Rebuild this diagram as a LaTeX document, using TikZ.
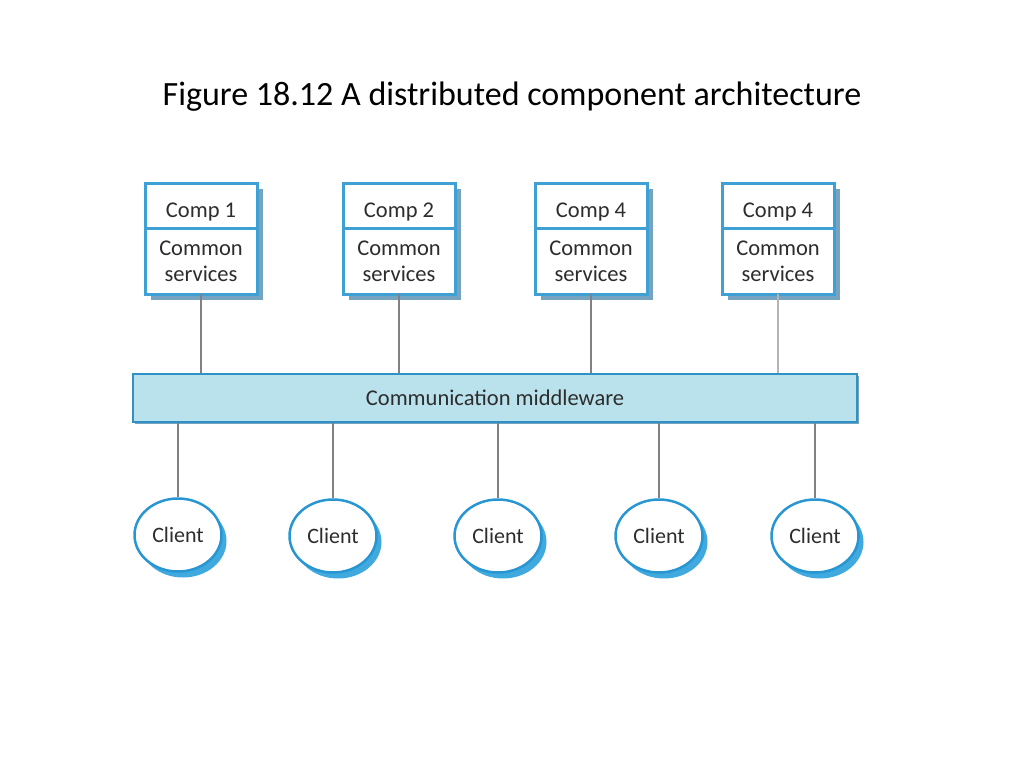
\documentclass[tikz,border=0pt]{standalone}
\usepackage{fontspec}
\setmainfont{Carlito}
\usetikzlibrary{positioning, shapes.geometric, shadows}
\definecolor{Box-Blue}{RGB}{62,160,212}
\definecolor{Box-Shadow}{RGB}{118,164,192}
\definecolor{Mw-Fill}{RGB}{186,226,236}
\definecolor{Mw-Draw}{RGB}{48,146,196}
\definecolor{Cl-Draw}{RGB}{40,150,210}
\definecolor{Cl-Shadow}{RGB}{64,170,222}
\definecolor{Wire-Gray}{RGB}{130,130,130}
\definecolor{Txt-Gray}{RGB}{45,45,45}

\begin{document}
\begin{tikzpicture}[x=1pt, y=-1pt]%[scale=\tikzscale]
      \tikzset{ cmp/.style ={draw=Box-Blue, line width=3pt, fill=white, text=Txt-Gray, minimum width=112pt, minimum height=45pt, inner sep=0pt, outer sep=0pt, font=\fontsize{22.5}{26}\selectfont, drop shadow={shadow xshift=6pt, shadow yshift=-6pt, fill=Box-Shadow, opacity=1}} }
      \tikzset{ srv/.style ={cmp, minimum height=66pt, align=center} }
      \tikzset{ mw/.style  ={draw=Mw-Draw, line width=2pt, fill=Mw-Fill, text=Txt-Gray, minimum width=724pt, minimum height=48pt, font=\fontsize{22.5}{26}\selectfont, drop shadow={shadow xshift=1.5pt, shadow yshift=-1.5pt, fill=Box-Shadow, opacity=1}} }
      \tikzset{ cl/.style  ={draw=Cl-Draw, line width=2.5pt, fill=white, text=Txt-Gray, ellipse, minimum width=87pt, minimum height=73pt, inner sep=0pt, font=\fontsize{22}{26}\selectfont, drop shadow={shadow xshift=5pt, shadow yshift=-6pt, fill=Cl-Shadow, opacity=1}} }
      \tikzset{ wire/.style={draw=Wire-Gray, line width=1.8pt} }

      \path[use as bounding box] (0,0) rectangle (1024,768);
      \node[font=\fontsize{34}{40}\selectfont] (title) at (512,97) {Figure 18.12 A distributed component architecture};

      \node[cmp, text height=28pt, text depth=5pt] (c1) at (201,205.5) {Comp 1};
      \node[srv, below=0pt of c1                 ] (s1)                {Common\\services};
      \node[cmp, text height=28pt, text depth=5pt] (c2) at (399,205.5) {Comp 2};
      \node[srv, below=0pt of c2                 ] (s2)                {Common\\services};
      \node[cmp, text height=28pt, text depth=5pt] (c3) at (591,205.5) {Comp 4};
      \node[srv, below=0pt of c3                 ] (s3)                {Common\\services};
      \node[cmp, text height=28pt, text depth=5pt] (c4) at (778,205.5) {Comp 4};
      \node[srv, below=0pt of c4                 ] (s4)                {Common\\services};

      \node[mw] (mw) at (495,398) {Communication middleware};

      \node[cl] (cl1) at (178,535) {Client};
      \node[cl] (cl2) at (333,536) {Client};
      \node[cl] (cl3) at (498,536) {Client};
      \node[cl] (cl4) at (659,536) {Client};
      \node[cl] (cl5) at (815,536) {Client};

      \draw[wire] (s1.south) -- (s1.south |- mw.north);
      \draw[wire] (s2.south) -- (s2.south |- mw.north);
      \draw[wire] (s3.south) -- (s3.south |- mw.north);
      \draw[wire, draw=Wire-Gray!60, line width=2.5pt] (s4.south) -- (s4.south |- mw.north);
      \draw[wire] (cl1.north) -- (cl1.north |- mw.south);
      \draw[wire] (cl2.north) -- (cl2.north |- mw.south);
      \draw[wire] (cl3.north) -- (cl3.north |- mw.south);
      \draw[wire] (cl4.north) -- (cl4.north |- mw.south);
      \draw[wire] (cl5.north) -- (cl5.north |- mw.south);
    \end{tikzpicture}
\end{document}
